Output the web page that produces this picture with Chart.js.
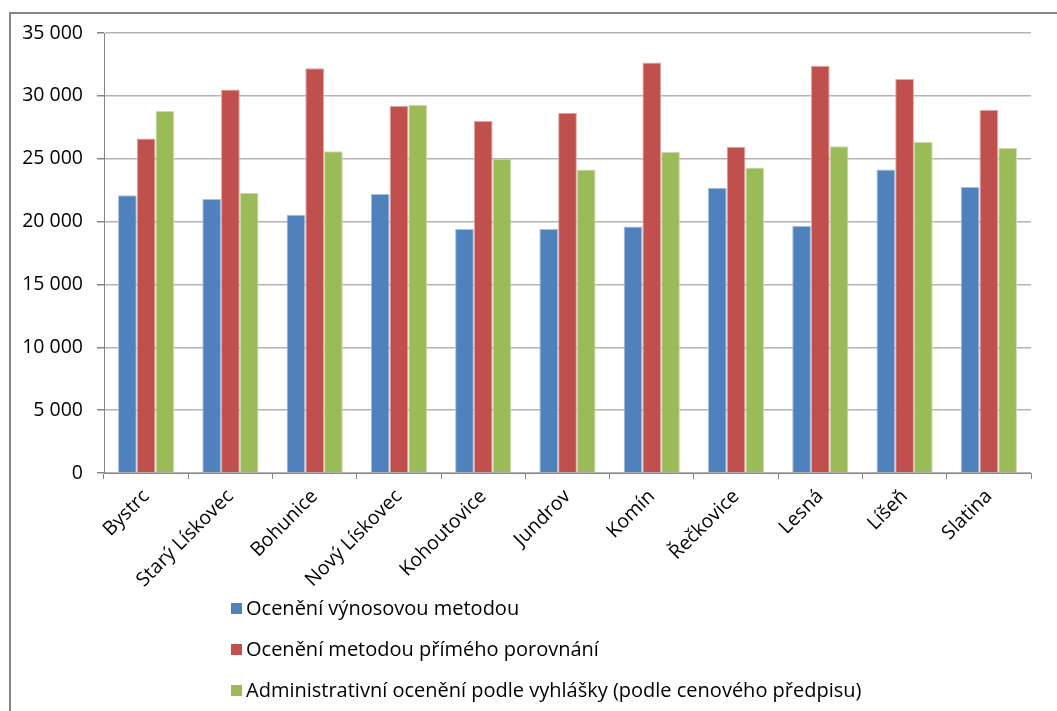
<!DOCTYPE html>
<html>
<head>
<meta charset="utf-8">
<script src="https://cdn.jsdelivr.net/npm/chart.js@4.4.0/dist/chart.umd.min.js"></script>
<style>
  html, body { margin: 0; padding: 0; background: #fff; }
  #wrap { width: 1057px; height: 711px; position: relative; }
</style>
</head>
<body>
<div id="wrap"><canvas id="chart"></canvas></div>
<script>
const categories = ["Bystrc", "Starý Lískovec", "Bohunice", "Nový Lískovec", "Kohoutovice",
  "Jundrov", "Komín", "Řečkovice", "Lesná", "Líšeň", "Slatina"];

const seriesNames = [
  "Ocenění výnosovou metodou",
  "Ocenění metodou přímého porovnání",
  "Administrativní ocenění podle vyhlášky (podle cenového předpisu)"
];

const vynosova = [22100, 21800, 20550, 22200, 19400, 19400, 19600, 22700, 19650, 24150, 22750];
const porovnani = [26600, 30500, 32200, 29200, 28000, 28650, 32650, 25950, 32400, 31350, 28900];
const administrativni = [28800, 22300, 25600, 29300, 25000, 24150, 25550, 24300, 26000, 26350, 25850];

const colors = ["#4f81bd", "#c0504d", "#9bbb59"];
const edges = ["#a7c0de", "#dfa8a6", "#cddcac"];

const FONT = "'Open Sans', sans-serif";

// frame around the whole chart (runs off the right and bottom edge)
const framePlugin = {
  id: "frame",
  beforeDraw(chart) {
    const ctx = chart.ctx;
    ctx.save();
    ctx.strokeStyle = "#868686";
    ctx.lineWidth = 2;
    ctx.strokeRect(10, 13, chart.width + 20, chart.height + 20);
    ctx.restore();
  }
};

// legend stacked one item per row, like the Excel original
const stackedLegend = {
  id: "stackedLegend",
  afterDraw(chart) {
    const ctx = chart.ctx;
    ctx.save();
    ctx.font = "20px " + FONT;
    ctx.textBaseline = "middle";
    chart.data.datasets.forEach((ds, i) => {
      const y = 609 + i * 41;
      ctx.fillStyle = ds.backgroundColor;
      ctx.fillRect(231, y - 6, 11, 11);
      ctx.fillStyle = "#000";
      ctx.fillText(ds.label, 246, y);
    });
    ctx.restore();
  }
};

new Chart(document.getElementById("chart"), {
  type: "bar",
  data: {
    labels: categories,
    datasets: [
      { label: seriesNames[0], data: vynosova, backgroundColor: colors[0], borderColor: edges[0], borderWidth: 1 },
      { label: seriesNames[1], data: porovnani, backgroundColor: colors[1], borderColor: edges[1], borderWidth: 1 },
      { label: seriesNames[2], data: administrativni, backgroundColor: colors[2], borderColor: edges[2], borderWidth: 1 }
    ]
  },
  options: {
    responsive: true,
    maintainAspectRatio: false,
    animation: false,
    datasets: { bar: { categoryPercentage: 0.667, barPercentage: 1 } },
    layout: { padding: { left: 0, right: 26, top: 33, bottom: 108 } },
    plugins: {
      legend: { display: false },
      tooltip: { enabled: false }
    },
    scales: {
      x: {
        afterFit: (s) => { s.height = 130; },
        border: { color: "#868686", width: 1 },
        grid: { offset: true, drawOnChartArea: false, tickLength: 6, color: "#868686" },
        ticks: {
          minRotation: 45, maxRotation: 45, padding: 6,
          color: "#000", font: { family: FONT, size: 19.5 }
        }
      },
      y: {
        min: 0, max: 35000,
        afterFit: (s) => { s.width = 104; },
        border: { color: "#868686", width: 1 },
        grid: { color: "#b4b4b4", lineWidth: 1.5, tickLength: 7, tickColor: "#868686" },
        ticks: {
          stepSize: 5000, padding: 14,
          color: "#000", font: { family: FONT, size: 19.5 },
          callback: (v) => String(v).replace(/\B(?=(\d{3})+(?!\d))/g, " ")
        }
      }
    }
  },
  plugins: [framePlugin, stackedLegend]
});
</script>
</body>
</html>
